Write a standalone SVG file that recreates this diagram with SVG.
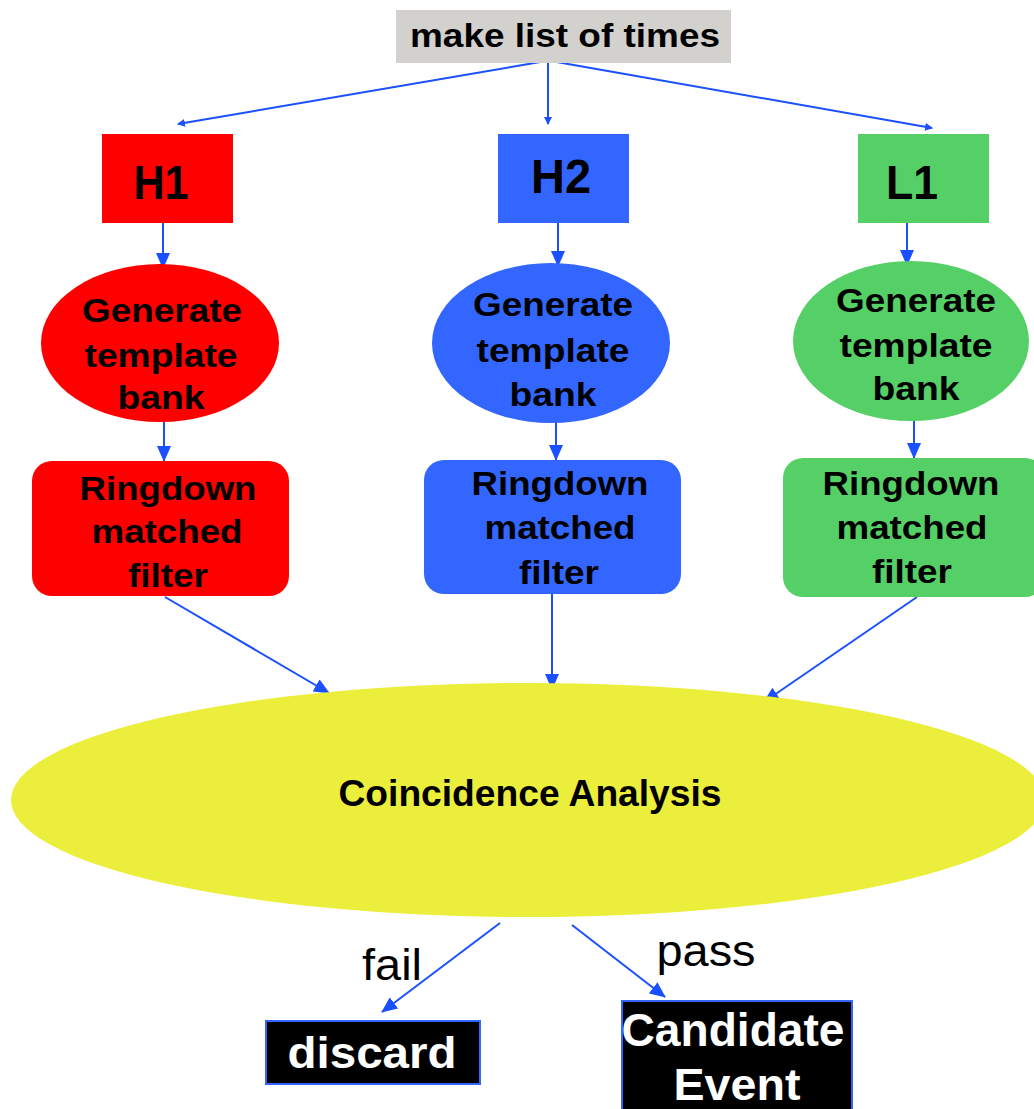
<svg xmlns="http://www.w3.org/2000/svg" width="1034" height="1109" viewBox="0 0 1034 1109">
<defs>
<marker id="ah" markerWidth="8" markerHeight="8" refX="7" refY="4" orient="auto" markerUnits="userSpaceOnUse" viewBox="0 0 8 8">
<path d="M0,0 L8,4 L0,8 Z" fill="#1a50ff"/>
</marker>
<marker id="ahL" markerWidth="16" markerHeight="14" refX="15" refY="7" orient="auto" markerUnits="userSpaceOnUse" viewBox="0 0 16 14">
<path d="M0,0 L16,7 L0,14 Z" fill="#1a50ff"/>
</marker>
<style>
.b{font-family:"Liberation Sans",Arial,sans-serif;font-weight:bold;text-anchor:middle;fill:#000}
.w{font-family:"Liberation Sans",Arial,sans-serif;font-weight:bold;text-anchor:middle;fill:#fff}
.n{font-family:"Liberation Sans",Arial,sans-serif;text-anchor:middle;fill:#000}
.c{stroke:#1a50ff;stroke-width:2;fill:none}
.t{font-size:34px}
</style>
</defs>
<rect width="1034" height="1109" fill="#fff"/>
<g id="connectors">
<line class="c" x1="546" y1="61" x2="178" y2="124" marker-end="url(#ah)"/>
<line class="c" x1="548" y1="63" x2="548" y2="124" marker-end="url(#ah)"/>
<line class="c" x1="551" y1="61" x2="932" y2="128" marker-end="url(#ah)"/>
<line class="c" x1="163" y1="223" x2="163" y2="268" marker-end="url(#ahL)"/>
<line class="c" x1="558" y1="223" x2="558" y2="266" marker-end="url(#ahL)"/>
<line class="c" x1="907" y1="223" x2="907" y2="265" marker-end="url(#ahL)"/>
<line class="c" x1="164" y1="422" x2="164" y2="461" marker-end="url(#ahL)"/>
<line class="c" x1="556" y1="422" x2="556" y2="460" marker-end="url(#ahL)"/>
<line class="c" x1="914" y1="421" x2="914" y2="458" marker-end="url(#ahL)"/>
<line class="c" x1="165" y1="597" x2="329" y2="693" marker-end="url(#ahL)"/>
<line class="c" x1="552" y1="594" x2="552" y2="689" marker-end="url(#ahL)"/>
<line class="c" x1="917" y1="597" x2="764" y2="702" marker-end="url(#ahL)"/>
<line class="c" x1="500" y1="923" x2="382" y2="1012" marker-end="url(#ahL)"/>
<line class="c" x1="572" y1="925" x2="665" y2="997" marker-end="url(#ahL)"/>
</g>
<g id="make-list">
<rect x="396" y="10" width="335" height="53" fill="#d3d1cd"/>
<text class="b" x="565" y="47" font-size="33" textLength="310" lengthAdjust="spacingAndGlyphs">make list of times</text>
</g>
<g id="H1">
<rect x="102" y="134" width="131" height="89" fill="#ff0000"/>
<text class="b" x="161" y="199" font-size="48" textLength="55" lengthAdjust="spacingAndGlyphs">H1</text>
</g>
<g id="H2">
<rect x="498" y="134" width="131" height="89" fill="#3366ff"/>
<text class="b" x="561" y="193" font-size="48" textLength="60" lengthAdjust="spacingAndGlyphs">H2</text>
</g>
<g id="L1">
<rect x="858" y="134" width="131" height="89" fill="#55d066"/>
<text class="b" x="912" y="199" font-size="48" textLength="52" lengthAdjust="spacingAndGlyphs">L1</text>
</g>
<g id="H1-bank">
<ellipse cx="160" cy="343" rx="119" ry="79" fill="#ff0000"/>
<text class="b t" x="162" y="322" textLength="160" lengthAdjust="spacingAndGlyphs">Generate</text>
<text class="b t" x="161" y="367" textLength="153" lengthAdjust="spacingAndGlyphs">template</text>
<text class="b t" x="161" y="409" textLength="87" lengthAdjust="spacingAndGlyphs">bank</text>
</g>
<g id="H2-bank">
<ellipse cx="551" cy="343" rx="119" ry="80" fill="#3366ff"/>
<text class="b t" x="553" y="316" textLength="160" lengthAdjust="spacingAndGlyphs">Generate</text>
<text class="b t" x="553" y="362" textLength="153" lengthAdjust="spacingAndGlyphs">template</text>
<text class="b t" x="553" y="406" textLength="87" lengthAdjust="spacingAndGlyphs">bank</text>
</g>
<g id="L1-bank">
<ellipse cx="911" cy="341" rx="118" ry="80" fill="#55d066"/>
<text class="b t" x="916" y="312" textLength="160" lengthAdjust="spacingAndGlyphs">Generate</text>
<text class="b t" x="916" y="357" textLength="153" lengthAdjust="spacingAndGlyphs">template</text>
<text class="b t" x="916" y="400" textLength="87" lengthAdjust="spacingAndGlyphs">bank</text>
</g>
<g id="H1-filter">
<rect x="32" y="461" width="257" height="135" rx="20" fill="#ff0000"/>
<text class="b t" x="168" y="500" textLength="177" lengthAdjust="spacingAndGlyphs">Ringdown</text>
<text class="b t" x="167" y="543" textLength="151" lengthAdjust="spacingAndGlyphs">matched</text>
<text class="b t" x="168" y="587" textLength="80" lengthAdjust="spacingAndGlyphs">filter</text>
</g>
<g id="H2-filter">
<rect x="424" y="460" width="257" height="134" rx="20" fill="#3366ff"/>
<text class="b t" x="560" y="495" textLength="177" lengthAdjust="spacingAndGlyphs">Ringdown</text>
<text class="b t" x="560" y="539" textLength="151" lengthAdjust="spacingAndGlyphs">matched</text>
<text class="b t" x="559" y="584" textLength="80" lengthAdjust="spacingAndGlyphs">filter</text>
</g>
<g id="L1-filter">
<rect x="783" y="458" width="262" height="139" rx="20" fill="#55d066"/>
<text class="b t" x="911" y="495" textLength="177" lengthAdjust="spacingAndGlyphs">Ringdown</text>
<text class="b t" x="912" y="539" textLength="151" lengthAdjust="spacingAndGlyphs">matched</text>
<text class="b t" x="912" y="583" textLength="80" lengthAdjust="spacingAndGlyphs">filter</text>
</g>
<g id="coincidence">
<ellipse cx="528" cy="800" rx="517" ry="117" fill="#ebee3a"/>
<text class="b" x="530" y="806" font-size="36" textLength="383" lengthAdjust="spacingAndGlyphs">Coincidence Analysis</text>
</g>
<g id="labels">
<text class="n" x="392" y="980" font-size="44" textLength="60" lengthAdjust="spacingAndGlyphs">fail</text>
<text class="n" x="706" y="966" font-size="44" textLength="99" lengthAdjust="spacingAndGlyphs">pass</text>
</g>
<g id="discard">
<rect x="266" y="1021" width="214" height="63" fill="#000" stroke="#3366ff" stroke-width="2"/>
<text class="w" x="372" y="1068" font-size="45" textLength="169" lengthAdjust="spacingAndGlyphs">discard</text>
</g>
<g id="candidate">
<rect x="622" y="1001" width="230" height="120" fill="#000" stroke="#3366ff" stroke-width="2"/>
<text class="w" x="733" y="1046" font-size="47" textLength="223" lengthAdjust="spacingAndGlyphs">Candidate</text>
<text class="w" x="737" y="1100" font-size="45" textLength="127" lengthAdjust="spacingAndGlyphs">Event</text>
</g>
</svg>
